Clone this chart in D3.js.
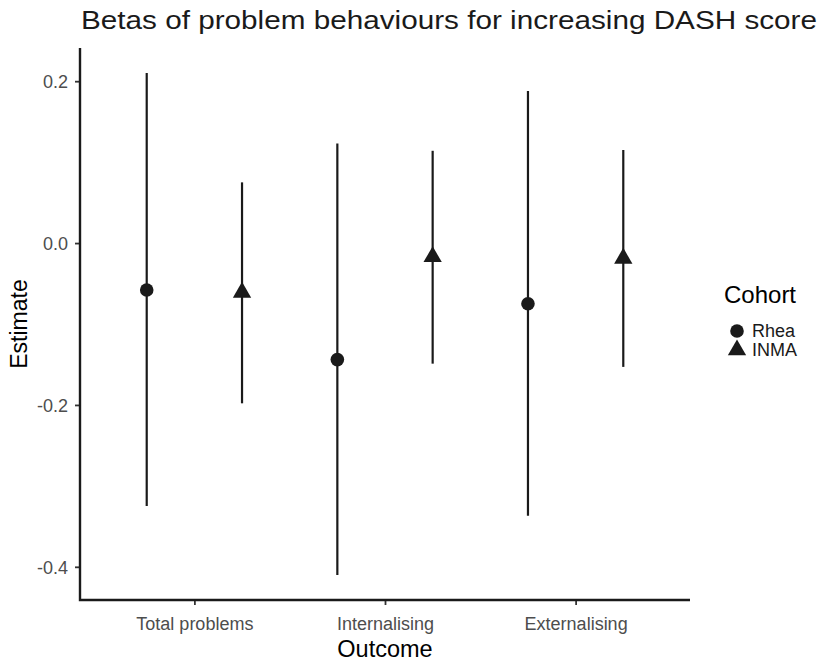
<!DOCTYPE html>
<html>
<head>
<meta charset="utf-8">
<script src="https://cdn.jsdelivr.net/npm/d3@7"></script>
<style>
  body { margin: 0; background: #fff; }
  text { font-family: "Liberation Sans", Arial, sans-serif; }
</style>
</head>
<body>
<div class="container"></div>
<script>
//Width and height
var w = 821;
var h = 662;

// data
var outcomes = ["Total problems", "Internalising", "Externalising"];
var cohorts = ["Rhea", "INMA"];
var rheaEst = [-0.058, -0.144, -0.075];
var rheaLow = [-0.325, -0.410, -0.337];
var rheaHigh = [0.210, 0.123, 0.188];
var inmaEst = [-0.061, -0.017, -0.019];
var inmaLow = [-0.198, -0.149, -0.153];
var inmaHigh = [0.075, 0.114, 0.115];
var yTicks = [-0.4, -0.2, 0.0, 0.2];

var rows = [];
outcomes.forEach(function(o, i) {
  rows.push({outcome: o, cohort: "Rhea", est: rheaEst[i], lo: rheaLow[i], hi: rheaHigh[i]});
  rows.push({outcome: o, cohort: "INMA", est: inmaEst[i], lo: inmaLow[i], hi: inmaHigh[i]});
});

var mLeft = 80, mRight = 690, mTop = 48, mBottom = 600;

var x = d3.scalePoint()
    .domain(outcomes)
    .range([mLeft, mRight])
    .padding(0.6);

var step = x.step();
var dodge = d3.scalePoint()
    .domain(cohorts)
    .range([-0.25 * step, 0.25 * step]);

// ggplot style 5% expansion on the data range
var lo = d3.min(rows, function(d) { return d.lo; });
var hi = d3.max(rows, function(d) { return d.hi; });
var pad = (hi - lo) * 0.05;
var y = d3.scaleLinear()
    .domain([lo - pad, hi + pad])
    .range([mBottom, mTop]);

var shape = d3.scaleOrdinal()
    .domain(cohorts)
    .range([d3.symbolCircle, d3.symbolTriangle]);
var size = d3.scaleOrdinal()
    .domain(cohorts)
    .range([145, 145]);

var svg = d3.select(".container")
    .append("svg")
    .attr("width", w)
    .attr("height", h);

svg.append("rect").attr("width", w).attr("height", h).attr("fill", "#fff");

// title
svg.append("text")
    .attr("x", mLeft + 1)
    .attr("y", 29)
    .attr("font-size", 26)
    .attr("textLength", 736)
    .attr("lengthAdjust", "spacingAndGlyphs")
    .attr("fill", "#1a1a1a")
    .text("Betas of problem behaviours for increasing DASH score");

// error bars
svg.selectAll(".bar")
    .data(rows)
    .enter()
    .append("line")
    .attr("class", "bar")
    .attr("x1", function(d) { return x(d.outcome) + dodge(d.cohort); })
    .attr("x2", function(d) { return x(d.outcome) + dodge(d.cohort); })
    .attr("y1", function(d) { return y(d.lo); })
    .attr("y2", function(d) { return y(d.hi); })
    .attr("stroke", "#1a1a1a")
    .attr("stroke-width", 2.2);

// points
svg.selectAll(".pt")
    .data(rows)
    .enter()
    .append("path")
    .attr("class", "pt")
    .attr("transform", function(d) {
      return "translate(" + (x(d.outcome) + dodge(d.cohort)) + "," + y(d.est) + ")";
    })
    .attr("d", function(d) { return d3.symbol().type(shape(d.cohort)).size(size(d.cohort))(); })
    .attr("fill", "#1a1a1a");

// axes (plain hyphen for negatives, like the original)
var fmt = d3.format(".1f");
var yAxis = svg.append("g")
    .attr("transform", "translate(" + mLeft + ",0)")
    .call(d3.axisLeft(y).tickValues(yTicks).tickSize(5)
      .tickFormat(function(d) { return fmt(d).replace("\u2212", "-"); }));
var xAxis = svg.append("g")
    .attr("transform", "translate(0," + mBottom + ")")
    .call(d3.axisBottom(x).tickSize(5));

[yAxis, xAxis].forEach(function(a) {
  a.select(".domain").remove();
  a.selectAll(".tick line").attr("stroke", "#333").attr("stroke-width", 1.8);
  a.selectAll(".tick text")
      .attr("fill", "#4d4d4d")
      .attr("font-size", 18)
      .attr("font-family", "Liberation Sans, Arial, sans-serif");
});
yAxis.selectAll(".tick text").attr("x", -12).attr("dy", "0.35em");
xAxis.selectAll(".tick text").attr("y", 30).attr("dy", null);

// axis lines
svg.append("path")
    .attr("d", "M" + mLeft + "," + mTop + "V" + mBottom + "H" + mRight)
    .attr("fill", "none")
    .attr("stroke", "#1a1a1a")
    .attr("stroke-width", 2.4);

// axis titles
svg.append("text")
    .attr("x", x.range()[0] + (x.range()[1] - x.range()[0]) / 2)
    .attr("y", 657)
    .attr("text-anchor", "middle")
    .attr("font-size", 23.5)
    .attr("fill", "#000")
    .text("Outcome");

svg.append("text")
    .attr("transform", "translate(27," + ((mTop + mBottom) / 2) + ") rotate(-90)")
    .attr("text-anchor", "middle")
    .attr("font-size", 23)
    .attr("fill", "#000")
    .text("Estimate");

// legend
var legend = svg.append("g")
    .attr("class", "key")
    .attr("transform", "translate(724,0)");

legend.append("text")
    .attr("x", 0)
    .attr("y", 303)
    .attr("font-size", 24)
    .attr("fill", "#000")
    .text("Cohort");

var items = legend.selectAll(".item")
    .data(cohorts)
    .enter()
    .append("g")
    .attr("class", "item")
    .attr("transform", function(d, i) { return "translate(0," + (331 + i * 19) + ")"; });

items.append("path")
    .attr("transform", "translate(13,0)")
    .attr("d", function(d) { return d3.symbol().type(shape(d)).size(size(d))(); })
    .attr("fill", "#1a1a1a");

items.append("text")
    .attr("x", 28)
    .attr("dy", "0.35em")
    .attr("font-size", 18)
    .attr("fill", "#1a1a1a")
    .text(function(d) { return d; });
</script>
</body>
</html>
